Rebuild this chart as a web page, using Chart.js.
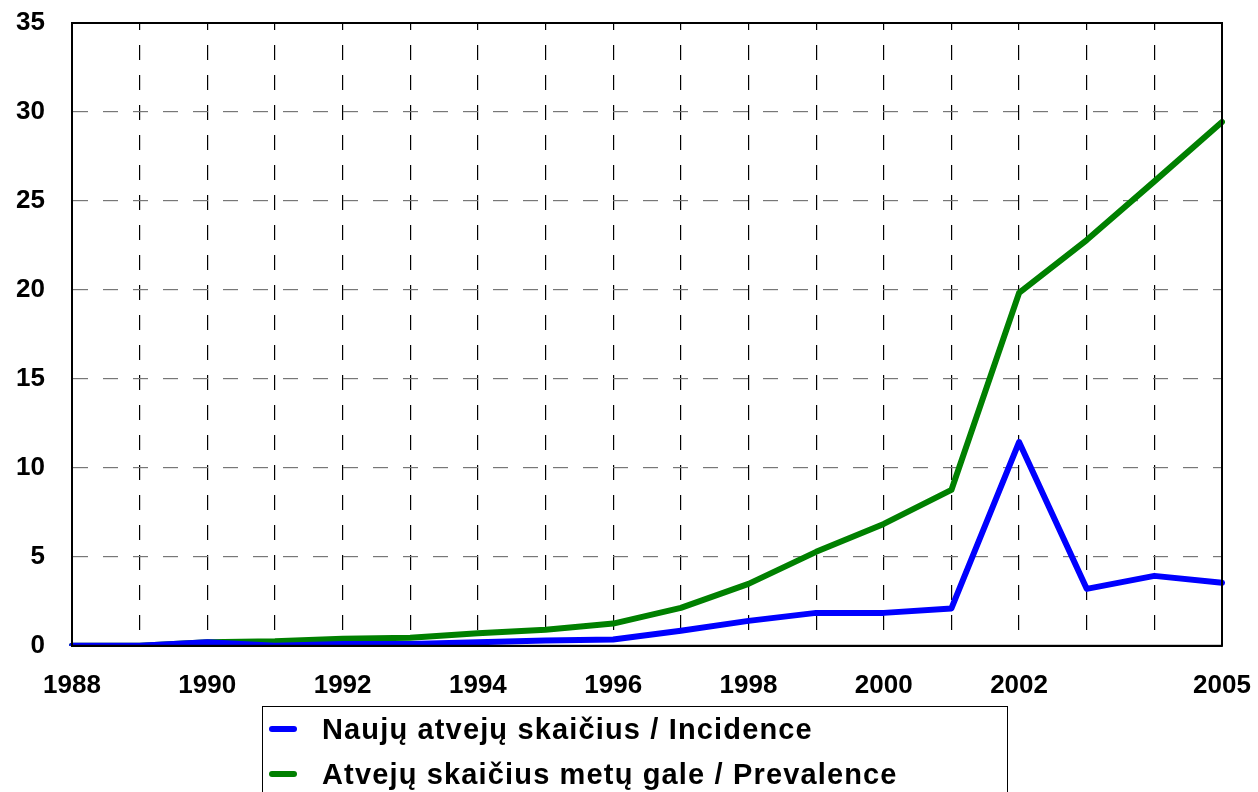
<!DOCTYPE html>
<html>
<head>
<meta charset="utf-8">
<script src="https://cdn.jsdelivr.net/npm/chart.js@4"></script>
<style>
  html, body { margin: 0; padding: 0; background: #fff; }
  #wrap { position: relative; width: 1258px; height: 792px; overflow: hidden; }
  #c { position: absolute; left: 0; top: 0; }
  #legend {
    position: absolute; left: 262px; top: 706px; width: 746px; height: 120px;
    border: 1.5px solid #000; box-sizing: border-box;
    font-family: "Liberation Sans", Arial, sans-serif; font-weight: bold;
    font-size: 29px; letter-spacing: 1.15px; color: #000;
  }
  .item { position: absolute; left: 0; height: 34px; line-height: 34px; white-space: nowrap; }
  .sw { position: absolute; left: 6px; top: 14px; width: 28px; height: 6px; border-radius: 3px; }
  .tx { position: absolute; left: 59px; top: 0; }
</style>
</head>
<body>
<div id="wrap">
  <canvas id="c" width="1258" height="792"></canvas>
  <div id="legend"></div>
</div>
<script>
const years = ['1988','1989','1990','1991','1992','1993','1994','1995','1996','1997','1998','1999','2000','2001','2002','2003','2004','2005'];
const shownYearLabels = ['1988','1990','1992','1994','1996','1998','2000','2002','2005'];
const incidence = [0, 0, 0.2, 0, 0.1, 0.1, 0.2, 0.3, 0.35, 0.85, 1.4, 1.85, 1.85, 2.1, 11.45, 3.2, 3.93, 3.54];
const prevalence = [0, 0, 0.2, 0.25, 0.4, 0.45, 0.7, 0.9, 1.25, 2.13, 3.48, 5.28, 6.85, 8.76, 19.83, 22.8, 26.1, 29.44];
const seriesNames = ['Naujų atvejų skaičius / Incidence', 'Atvejų skaičius metų gale / Prevalence'];
const seriesColors = ['#0000ff', '#008000'];
const yTicks = [0, 5, 10, 15, 20, 25, 30, 35];

const frame = {
  id: 'frame',
  afterDatasetsDraw(chart) {
    const a = chart.chartArea, ctx = chart.ctx;
    ctx.save();
    ctx.strokeStyle = '#000';
    ctx.lineWidth = 2;
    ctx.setLineDash([]);
    ctx.strokeRect(a.left, a.top, a.right - a.left, a.bottom - a.top);
    ctx.restore();
  }
};

const fontFam = '"Liberation Sans", Arial, sans-serif';

new Chart(document.getElementById('c'), {
  type: 'line',
  data: {
    labels: years,
    datasets: [
      { label: seriesNames[0], data: incidence, borderColor: seriesColors[0], backgroundColor: seriesColors[0],
        borderWidth: 6, pointRadius: 0, tension: 0, borderCapStyle: 'round', borderJoinStyle: 'round', order: 1 },
      { label: seriesNames[1], data: prevalence, borderColor: seriesColors[1], backgroundColor: seriesColors[1],
        borderWidth: 6, pointRadius: 0, tension: 0, borderCapStyle: 'round', borderJoinStyle: 'round', order: 2 }
    ]
  },
  options: {
    responsive: false,
    animation: false,
    devicePixelRatio: 1,
    layout: { padding: { left: 0, right: 36, top: 23, bottom: 67 } },
    plugins: { legend: { display: false }, tooltip: { enabled: false } },
    scales: {
      x: {
        type: 'category',
        offset: false,
        border: { display: true, color: '#000', width: 2, dash: [15, 15], dashOffset: 8 },
        grid: { color: '#000', lineWidth: 1.2, drawTicks: false },
        afterFit: function(axis) { axis.paddingLeft = 0; axis.paddingRight = 0; },
        ticks: {
          autoSkip: false, maxRotation: 0, padding: 24,
          color: '#000', font: { family: fontFam, size: 26, weight: 'bold' },
          callback: function(v, i) { const l = years[i]; return shownYearLabels.includes(l) ? l : ''; }
        }
      },
      y: {
        min: 0, max: 35,
        border: { display: true, color: '#000', width: 2, dash: [15, 15] },
        grid: { color: '#777', lineWidth: 1.2, drawTicks: false },
        afterBuildTicks: function(axis) { axis.ticks = yTicks.map(v => ({ value: v })); },
        afterFit: function(axis) { axis.width = 72; axis.paddingTop = 0; axis.paddingBottom = 0; },
        ticks: {
          padding: 27,
          color: '#000', font: { family: fontFam, size: 26, weight: 'bold' }
        }
      }
    }
  },
  plugins: [frame]
});
</script>
<script>
const lg = document.getElementById('legend');
seriesNames.forEach((n, i) => {
  const it = document.createElement('div');
  it.className = 'item';
  it.style.top = (i === 0 ? 5 : 50) + 'px';
  it.innerHTML = '<span class="sw" style="background:' + seriesColors[i] + '"></span><span class="tx"></span>';
  it.querySelector('.tx').textContent = n;
  lg.appendChild(it);
});
</script>
</body>
</html>
